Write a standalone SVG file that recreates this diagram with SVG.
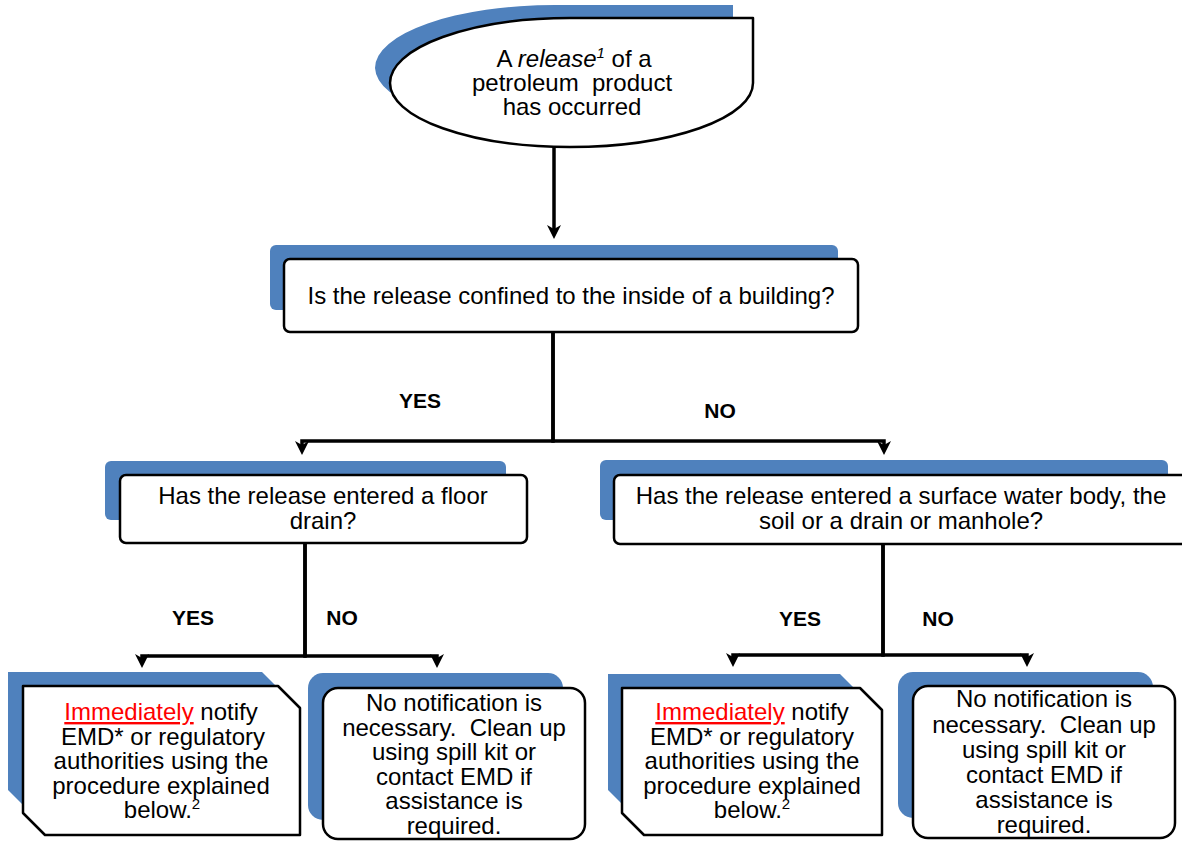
<svg xmlns="http://www.w3.org/2000/svg" width="1182" height="841" viewBox="0 0 1182 841">
<style>
.sh{fill:#4F81BD;stroke:none}
.bx{fill:#fff;stroke:#000;stroke-width:2.5;stroke-linejoin:round}
.t{font-family:"Liberation Sans",Arial,sans-serif;font-size:24px;fill:#000;text-anchor:middle}
.lb{font-family:"Liberation Sans",Arial,sans-serif;font-size:21px;font-weight:bold;fill:#000;text-anchor:middle}
.cn{fill:none;stroke:#000;stroke-width:3.5;stroke-linejoin:miter}
.red{fill:#FF0000;text-decoration:underline}
.sup{font-size:15px}
</style>
<defs>
<marker id="ah" viewBox="0 0 14 14" refX="4" refY="7" markerWidth="14" markerHeight="14" markerUnits="userSpaceOnUse" orient="auto">
<path d="M0,0 L14,7 L0,14 L4,7 Z" fill="#000"/>
</marker>
</defs>
<rect width="1182" height="841" fill="#fff"/>

<g id="connectors">
<path class="cn" d="M554,147 V229" marker-end="url(#ah)"/>
<path class="cn" d="M553,332 V441 H302 V445" marker-end="url(#ah)"/>
<path class="cn" d="M553,332 V441 H884 V445" marker-end="url(#ah)"/>
<path class="cn" d="M305,543 V656 H142 V658" marker-end="url(#ah)"/>
<path class="cn" d="M305,543 V656 H437 V658" marker-end="url(#ah)"/>
<path class="cn" d="M883,544 V655 H733 V657" marker-end="url(#ah)"/>
<path class="cn" d="M883,544 V655 H1027 V657" marker-end="url(#ah)"/>
</g>

<g id="labels">
<text class="lb" x="420" y="408">YES</text>
<text class="lb" x="720" y="418">NO</text>
<text class="lb" x="193" y="625">YES</text>
<text class="lb" x="342" y="625">NO</text>
<text class="lb" x="800" y="626">YES</text>
<text class="lb" x="938" y="626">NO</text>
</g>

<g id="start">
<path class="sh" d="M555,5 L733,5 L733,68 A178,62 0 0 1 555,130 A180,63 0 0 1 375,68 A180,63 0 0 1 555,5 Z"/>
<path class="bx" d="M570,18 L753,18 L753,83 A183,64 0 0 1 570,147 A180,64 0 0 1 390,83 A180,65 0 0 1 570,18 Z"/>
<text class="t" x="574" y="67" xml:space="preserve">A <tspan font-style="italic">release</tspan><tspan font-style="italic" class="sup" dy="-9">1</tspan><tspan dy="9"> of a</tspan><tspan x="572" dy="24">petroleum  product</tspan><tspan x="572" dy="24">has occurred</tspan></text>
</g>

<g id="q1">
<rect class="sh" x="270" y="245" width="568" height="65" rx="6"/>
<rect class="bx" x="284" y="259" width="574" height="73" rx="6"/>
<text class="t" x="571" y="304">Is the release confined to the inside of a building?</text>
</g>

<g id="q2">
<rect class="sh" x="105" y="461" width="401" height="59" rx="6"/>
<rect class="bx" x="120" y="475" width="407" height="68" rx="6"/>
<text class="t" x="323" y="504">Has the release entered a floor<tspan x="323" dy="25">drain?</tspan></text>
</g>

<g id="q3">
<rect class="sh" x="600" y="460" width="568" height="60" rx="6"/>
<rect class="bx" x="614" y="475" width="574" height="69" rx="6"/>
<text class="t" x="901" y="504">Has the release entered a surface water body, the<tspan x="901" dy="25">soil or a drain or manhole?</tspan></text>
</g>

<g id="notify1">
<path class="sh" d="M8,672 L262,672 L284,694 L284,812 L30,812 L8,790 Z"/>
<path class="bx" d="M23,686 L278,686 L300,708 L300,835 L45,835 L23,813 Z"/>
<text class="t" x="161" y="720"><tspan class="red">Immediately</tspan> notify<tspan x="163" dy="25">EMD* or regulatory</tspan><tspan x="161" dy="24">authorities using the</tspan><tspan x="161" dy="25">procedure explained</tspan><tspan x="162" dy="24">below.</tspan><tspan class="sup" dy="-9">2</tspan></text>
</g>

<g id="none1">
<rect class="sh" x="308" y="673" width="255" height="147" rx="15"/>
<rect class="bx" x="323" y="688" width="262" height="151" rx="15"/>
<text class="t" x="454" y="711" xml:space="preserve">No notification is<tspan x="454" dy="25">necessary.  Clean up</tspan><tspan x="454" dy="24">using spill kit or</tspan><tspan x="454" dy="25">contact EMD if</tspan><tspan x="454" dy="24">assistance is</tspan><tspan x="454" dy="25">required.</tspan></text>
</g>

<g id="notify2">
<path class="sh" d="M608,674 L840,674 L862,696 L862,812 L630,812 L608,790 Z"/>
<path class="bx" d="M622,688 L860,688 L882,710 L882,835 L644,835 L622,813 Z"/>
<text class="t" x="752" y="720"><tspan class="red">Immediately</tspan> notify<tspan x="752" dy="25">EMD* or regulatory</tspan><tspan x="752" dy="24">authorities using the</tspan><tspan x="752" dy="25">procedure explained</tspan><tspan x="752" dy="24">below.</tspan><tspan class="sup" dy="-9">2</tspan></text>
</g>

<g id="none2">
<rect class="sh" x="898" y="672" width="255" height="146" rx="15"/>
<rect class="bx" x="913" y="686" width="262" height="152" rx="15"/>
<text class="t" x="1044" y="707" xml:space="preserve">No notification is<tspan x="1044" dy="26">necessary.  Clean up</tspan><tspan x="1044" dy="25">using spill kit or</tspan><tspan x="1044" dy="25">contact EMD if</tspan><tspan x="1044" dy="25">assistance is</tspan><tspan x="1044" dy="25">required.</tspan></text>
</g>
</svg>
